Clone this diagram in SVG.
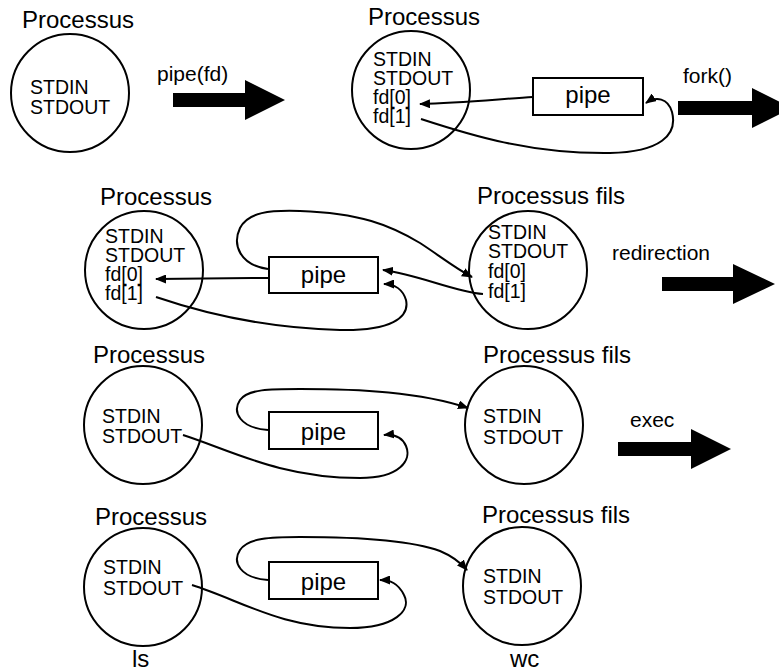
<svg xmlns="http://www.w3.org/2000/svg" width="779" height="671" viewBox="0 0 779 671">
<defs>
<style>
.t{font-family:"Liberation Sans",Arial,Helvetica,sans-serif;fill:#000}
.title{font-size:24px}
.in{font-size:19.5px}
.lbl{font-size:21px}
.pt{font-size:24px;text-anchor:middle}
.c{fill:#fff;stroke:#000;stroke-width:2}
.box{fill:#fff;stroke:#000;stroke-width:2}
.ln{fill:none;stroke:#000;stroke-width:2}
.fat{fill:#000}
</style>
<marker id="ah" markerUnits="userSpaceOnUse" markerWidth="11" markerHeight="9" refX="10" refY="4.5" orient="auto">
<path d="M0,0 L11,4.5 L0,9 z" fill="#000"/>
</marker>
</defs>
<rect width="779" height="671" fill="#fff"/>

<g id="arrow1"><polygon class="fat" points="173,93 245,93 245,80 285,100 245,120 245,107 173,107"/><text class="t lbl" x="157" y="81">pipe(fd)</text></g>
<g id="arrow2"><polygon class="fat" points="678,101 752,101 752,88 792,108 752,128 752,115 678,115"/><text class="t lbl" x="683" y="83">fork()</text></g>
<g id="arrow3"><polygon class="fat" points="662,277 733,277 733,264 775,284 733,304 733,291 662,291"/><text class="t lbl" x="612" y="260">redirection</text></g>
<g id="arrow4"><polygon class="fat" points="618,442 691,442 691,429 731,449 691,469 691,456 618,456"/><text class="t lbl" x="630" y="427">exec</text></g>

<g id="proc1">
<text class="t title" x="22" y="28">Processus</text>
<circle class="c" cx="70" cy="93" r="59"/>
<text class="t in" x="30" y="94">STDIN</text>
<text class="t in" x="30" y="114">STDOUT</text>
</g>

<g id="proc2">
<text class="t title" x="368" y="25">Processus</text>
<circle class="c" cx="411" cy="90" r="59"/>
<text class="t in" x="373" y="66">STDIN</text>
<text class="t in" x="373" y="85">STDOUT</text>
<text class="t in" x="373" y="104">fd[0]</text>
<text class="t in" x="373" y="123">fd[1]</text>
</g>
<g id="pipe1"><rect class="box" x="533" y="78" width="110" height="37"/><text class="t pt" x="588" y="103">pipe</text></g>

<g id="proc3">
<text class="t title" x="100" y="205">Processus</text>
<circle class="c" cx="144" cy="270" r="59"/>
<text class="t in" x="105" y="243">STDIN</text>
<text class="t in" x="105" y="262">STDOUT</text>
<text class="t in" x="105" y="281">fd[0]</text>
<text class="t in" x="105" y="300">fd[1]</text>
</g>
<g id="pipe2"><rect class="box" x="269" y="257" width="109" height="36"/><text class="t pt" x="323.5" y="283">pipe</text></g>
<g id="child3">
<text class="t title" x="477" y="204">Processus fils</text>
<circle class="c" cx="528" cy="270" r="59"/>
<text class="t in" x="488" y="239">STDIN</text>
<text class="t in" x="488" y="258">STDOUT</text>
<text class="t in" x="488" y="278">fd[0]</text>
<text class="t in" x="488" y="298">fd[1]</text>
</g>

<g id="proc4">
<text class="t title" x="93" y="363">Processus</text>
<circle class="c" cx="143" cy="425" r="59"/>
<text class="t in" x="102" y="423">STDIN</text>
<text class="t in" x="102" y="443">STDOUT</text>
</g>
<g id="pipe3"><rect class="box" x="269" y="412" width="109" height="37"/><text class="t pt" x="323.5" y="440">pipe</text></g>
<g id="child4">
<text class="t title" x="483" y="363">Processus fils</text>
<circle class="c" cx="524" cy="425" r="59"/>
<text class="t in" x="483" y="423">STDIN</text>
<text class="t in" x="483" y="444">STDOUT</text>
</g>

<g id="proc5">
<text class="t title" x="95" y="525">Processus</text>
<circle class="c" cx="143" cy="587" r="59"/>
<text class="t in" x="103" y="574">STDIN</text>
<text class="t in" x="103" y="595">STDOUT</text>
<text class="t title" x="132" y="667">ls</text>
</g>
<g id="pipe4"><rect class="box" x="269" y="562" width="109" height="37"/><text class="t pt" x="323.5" y="590">pipe</text></g>
<g id="child5">
<text class="t title" x="482" y="523">Processus fils</text>
<circle class="c" cx="522" cy="586" r="59"/>
<text class="t in" x="483" y="583">STDIN</text>
<text class="t in" x="483" y="604">STDOUT</text>
<text class="t title" x="510" y="667">wc</text>
</g>

<g id="connectors">
<path class="ln" marker-end="url(#ah)" d="M533,97 C500,99 460,103 420,104"/>
<path class="ln" marker-end="url(#ah)" d="M421,119 C470,135 530,154 610,153 C660,152 678,135 672,112 C668,98 656,96 646,103"/>
<path class="ln" marker-end="url(#ah)" d="M269,278 C230,278 190,279 156,279"/>
<path class="ln" marker-end="url(#ah)" d="M268,269 C240,265 232,245 240,228 C248,212 270,210 300,211 C360,213 390,225 420,243 C440,256 455,268 472,277"/>
<path class="ln" marker-end="url(#ah)" d="M483,294 C455,292 420,275 383,270"/>
<path class="ln" marker-end="url(#ah)" d="M156,297 C200,312 260,328 340,330 C390,331 410,318 406,300 C403,290 395,284 384,284"/>
<path class="ln" marker-end="url(#ah)" d="M268,430 C240,428 232,412 240,400 C248,389 270,389 300,389 C360,389 420,392 468,408"/>
<path class="ln" marker-end="url(#ah)" d="M183,435 C230,450 280,478 360,478 C400,478 412,460 406,446 C402,437 394,434 384,435"/>
<path class="ln" marker-end="url(#ah)" d="M268,580 C240,578 232,562 240,550 C248,538 270,537 300,537 C360,537 410,540 440,551 C452,556 460,562 467,570"/>
<path class="ln" marker-end="url(#ah)" d="M192,585 C240,600 280,628 350,628 C395,628 412,610 404,595 C398,583 390,580 380,580"/>
</g>
</svg>
